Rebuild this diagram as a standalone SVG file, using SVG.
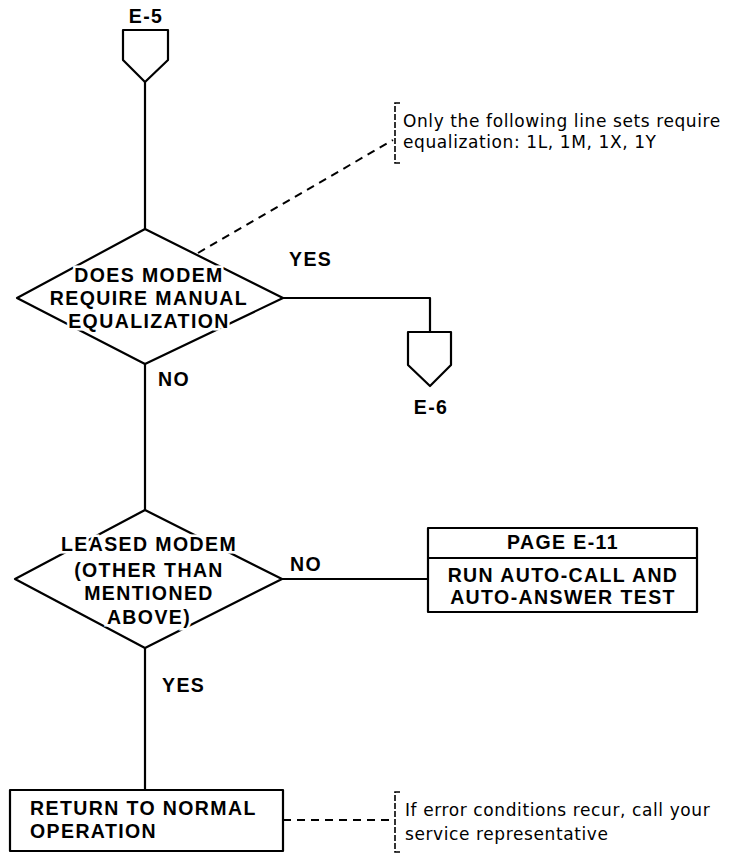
<svg xmlns="http://www.w3.org/2000/svg" width="738" height="854" viewBox="0 0 738 854">
<style>
.s{fill:none;stroke:#000;stroke-width:2.2;stroke-linejoin:round}
.d{fill:none;stroke:#000;stroke-width:2;stroke-dasharray:8,6}
.k{fill:none;stroke:#000;stroke-width:1.6;stroke-dasharray:6,2}
.b{font-family:"Liberation Sans",Arial,sans-serif;font-weight:bold;font-size:19.5px;letter-spacing:1.4px;fill:#000}
.h{paint-order:stroke;stroke:#fff;stroke-width:5px}
.n{font-family:"DejaVu Sans","Liberation Sans",sans-serif;font-size:17px;letter-spacing:0.6px;fill:#000}
.m{text-anchor:middle}
</style>
<rect width="738" height="854" fill="#fff"/>
<g id="connectors">
<line class="s" x1="145" y1="82" x2="145" y2="229"/>
<polyline class="s" points="283,298 430,298 430,332"/>
<line class="s" x1="145" y1="364" x2="145" y2="510"/>
<line class="s" x1="282" y1="579" x2="428" y2="579"/>
<line class="s" x1="145" y1="648" x2="145" y2="790"/>
<line class="d" x1="198" y1="253" x2="393" y2="140"/>
<line class="d" x1="283" y1="820" x2="393" y2="820"/>
<text class="b" x="289" y="266">YES</text>
<text class="b" x="158" y="386">NO</text>
<text class="b" x="290" y="571">NO</text>
<text class="b" x="162" y="692">YES</text>
</g>
<g id="e5">
<text class="b m" x="146" y="23">E-5</text>
<polygon class="s" points="123,30 168,30 168,60 145,82 123,60"/>
</g>
<g id="d1">
<polygon class="s" points="145,229 283,298 145,364 17,298" fill="#fff"/>
<text class="b m h" x="149" y="282">DOES MODEM</text>
<text class="b m h" x="149" y="305">REQUIRE MANUAL</text>
<text class="b m h" x="149" y="328">EQUALIZATION</text>
</g>
<g id="e6">
<polygon class="s" points="408,332 451,332 451,365 430,386 408,365"/>
<text class="b m" x="431" y="414">E-6</text>
</g>
<g id="note1">
<polyline class="k" points="400,103 395,103 395,163 400,163"/>
<text class="n" x="403" y="127">Only the following line sets require</text>
<text class="n" x="403" y="148">equalization:  1L, 1M, 1X, 1Y</text>
</g>
<g id="d2">
<polygon class="s" points="145,510 282,579 145,648 15,579" fill="#fff"/>
<text class="b m h" x="149" y="551">LEASED MODEM</text>
<text class="b m h" x="149" y="577">(OTHER THAN</text>
<text class="b m h" x="149" y="600">MENTIONED</text>
<text class="b m h" x="149" y="624">ABOVE)</text>
</g>
<g id="page">
<rect class="s" x="428" y="528" width="269" height="84"/>
<line class="s" x1="428" y1="558" x2="697" y2="558"/>
<text class="b m" x="563" y="549">PAGE E-11</text>
<text class="b m" x="563" y="582">RUN AUTO-CALL AND</text>
<text class="b m" x="563" y="604">AUTO-ANSWER TEST</text>
</g>
<g id="ret">
<rect class="s" x="10" y="790" width="273" height="61"/>
<text class="b" x="30" y="815">RETURN TO NORMAL</text>
<text class="b" x="30" y="838">OPERATION</text>
</g>
<g id="note2">
<polyline class="k" points="400,792 395,792 395,852 400,852"/>
<text class="n" x="405" y="816">If error conditions recur, call your</text>
<text class="n" x="405" y="840">service representative</text>
</g>
</svg>
